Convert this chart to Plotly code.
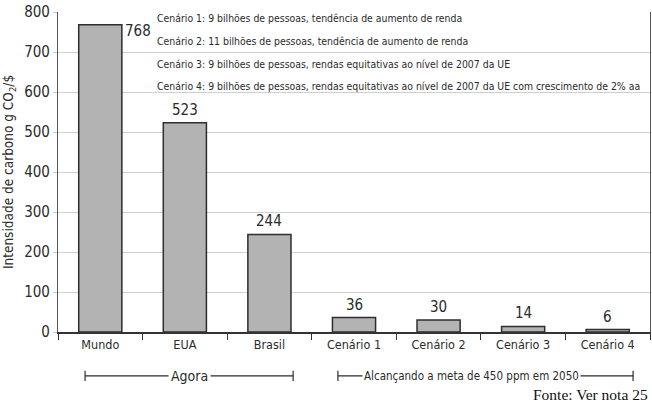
import plotly.graph_objects as go

# Carbon intensity (g CO2 per $) today and under the 2050 scenarios
categories = ["Mundo", "EUA", "Brasil", "Cenário 1", "Cenário 2", "Cenário 3", "Cenário 4"]
intensity = [768, 523, 244, 36, 30, 14, 6]
value_labels = ["768", "523", "244", "36", "30", "14", "6"]
y_ticks = [0, 100, 200, 300, 400, 500, 600, 700, 800]

scenario_notes = [
    "Cenário 1: 9 bilhões de pessoas, tendência de aumento de renda",
    "Cenário 2: 11 bilhões de pessoas, tendência de aumento de renda",
    "Cenário 3: 9 bilhões de pessoas, rendas equitativas ao nível de 2007 da UE",
    "Cenário 4: 9 bilhões de pessoas, rendas equitativas ao nível de 2007 da UE com crescimento de 2% aa",
]
note_levels = [784, 727, 669, 614]

NARROW = "DejaVu Sans Condensed, Liberation Sans Narrow, Arial Narrow, sans-serif"
INK = "#2b2b2b"

fig = go.Figure()
fig.add_trace(go.Bar(
    x=categories,
    y=intensity,
    width=0.51,
    marker=dict(color="#b3b3b3", line=dict(color="#2e2e2e", width=1.5)),
    showlegend=False,
    hoverinfo="x+y",
))

annotations = []
# value labels: the first one sits beside the bar top, the rest above
for i, (cat, val, lab) in enumerate(zip(categories, intensity, value_labels)):
    if i == 0:
        annotations.append(dict(x=cat, y=val, text=lab, xref="x", yref="y",
                                showarrow=False, xanchor="left", yanchor="middle",
                                xshift=23, yshift=-6,
                                font=dict(family=NARROW, size=15, color=INK)))
    else:
        annotations.append(dict(x=cat, y=val, text=lab, xref="x", yref="y",
                                showarrow=False, xanchor="center", yanchor="bottom",
                                yshift=2,
                                font=dict(family=NARROW, size=15, color=INK)))

for note, lvl in zip(scenario_notes, note_levels):
    annotations.append(dict(x=0.164, y=lvl, text=note, xref="paper", yref="y",
                            showarrow=False, xanchor="left", yanchor="middle",
                            font=dict(family=NARROW, size=10.4, color=INK)))

# group captions under the category labels
bracket_y = -0.137
annotations.append(dict(x=1.05, y=bracket_y, text="Agora", xref="x", yref="paper",
                        showarrow=False, xanchor="center", yanchor="middle",
                        bgcolor="white", borderpad=2,
                        font=dict(family=NARROW, size=14, color=INK)))
annotations.append(dict(x=3.1, y=bracket_y, text="Alcançando a meta de 450 ppm em 2050",
                        xref="x", yref="paper", showarrow=False,
                        xanchor="left", yanchor="middle", bgcolor="white", borderpad=1,
                        font=dict(family=NARROW, size=11.5, color=INK)))
annotations.append(dict(x=1.0, y=-0.195, text="Fonte: Ver nota 25", xref="paper", yref="paper",
                        showarrow=False, xanchor="right", yanchor="middle",
                        font=dict(family="Liberation Serif, Times New Roman, serif",
                                  size=15.5, color="#111111")))

shapes = []
for x0, x1 in [(-0.18, 2.28), (2.81, 6.30)]:
    shapes.append(dict(type="line", xref="x", yref="paper", x0=x0, x1=x1,
                       y0=bracket_y, y1=bracket_y, line=dict(color=INK, width=1.2), layer="below"))
    for xe in (x0, x1):
        shapes.append(dict(type="line", xref="x", yref="paper", x0=xe, x1=xe,
                           y0=bracket_y - 0.016, y1=bracket_y + 0.016,
                           line=dict(color=INK, width=1.2)))

fig.update_layout(
    width=652, height=404,
    margin=dict(l=58, r=2, t=12, b=72),
    paper_bgcolor="white",
    plot_bgcolor="white",
    font=dict(family=NARROW, color=INK),
    annotations=annotations,
    shapes=shapes,
    xaxis=dict(
        type="category",
        range=[-0.5, 6.5],
        showline=True, linecolor="#333333", linewidth=1.5, mirror=False,
        ticks="outside", tickson="boundaries", ticklen=6, tickcolor="#333333",
        tickfont=dict(family=NARROW, size=12.5, color=INK),
        showgrid=False,
        fixedrange=True,
    ),
    yaxis=dict(
        range=[0, 800],
        tickvals=y_ticks,
        showline=True, linecolor="#555555", linewidth=1.2, mirror=True,
        ticks="outside", ticklen=4, tickcolor="#c8c8c8",
        gridcolor="#cfcfcf", gridwidth=1,
        tickfont=dict(family=NARROW, size=15, color=INK),
        title=dict(text="Intensidade de carbono g CO<sub>2</sub>/$",
                   font=dict(family=NARROW, size=13.5, color=INK), standoff=10),
        zeroline=False,
    ),
)

fig.write_html("out.html")
